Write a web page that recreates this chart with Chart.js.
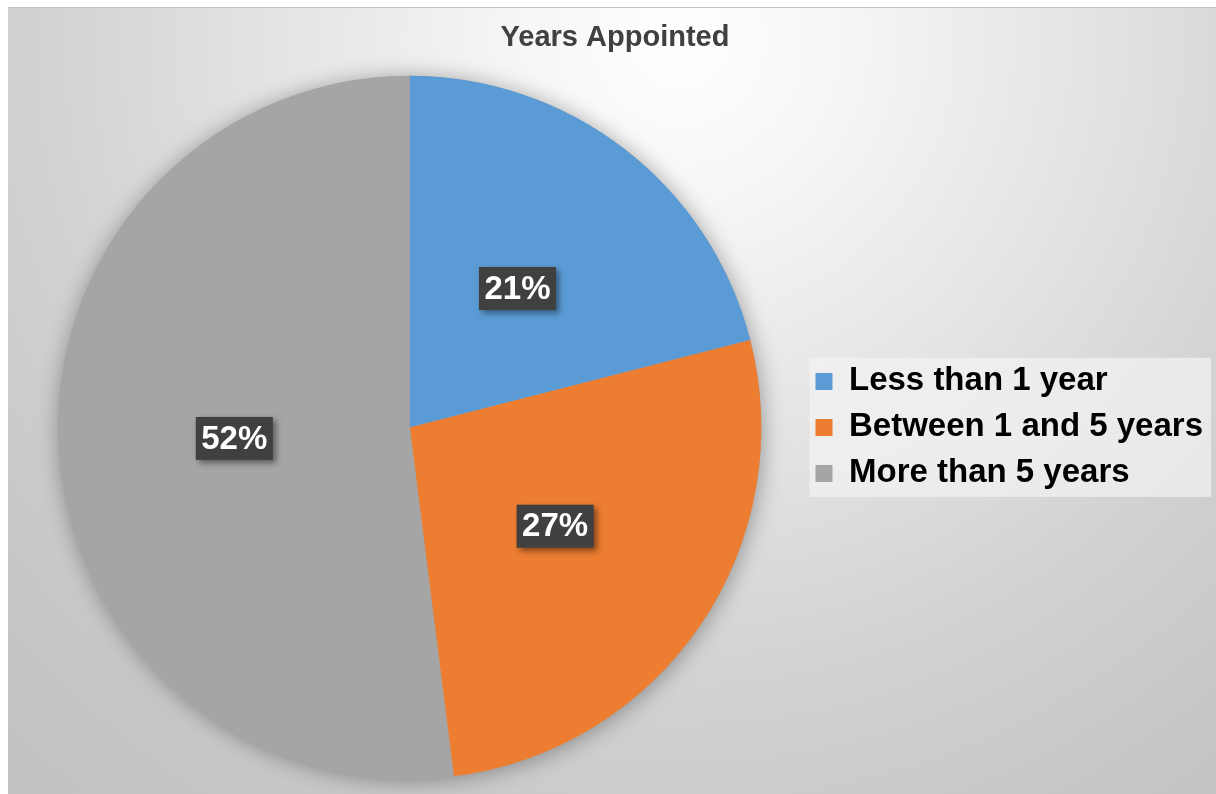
<!DOCTYPE html>
<html>
<head>
<meta charset="utf-8">
<title>Years Appointed</title>
<script src="https://cdn.jsdelivr.net/npm/chart.js@4.4.1/dist/chart.umd.min.js"></script>
<style>
	html, body {
		margin: 0;
		padding: 0;
		background: #ffffff;
	}
	#chart-box {
		position: absolute;
		left: 8px;
		top: 7px;
		width: 1208px;
		height: 787px;
		border-top: 1px solid #c4c4c4;
		box-sizing: border-box;
		background: radial-gradient(circle at 672px 33px, #ffffff 0px, #f6f6f6 160px, #e2e2e2 430px, #d2d2d2 640px, #c6c6c6 860px, #c0c0c0 1050px);
	}
</style>
</head>
<body>
<div id="chart-box">
	<canvas id="pie-chartcanvas"></canvas>
</div>
<script>
	var labels = ["Less than 1 year", "Between 1 and 5 years", "More than 5 years"];
	var percents = [21, 27, 52];
	var colors = ["#5b9bd5", "#ed7d31", "#a5a5a5"];

	var fontFamily = "'Liberation Sans', Arial, Helvetica, sans-serif";

	// soft shadow behind the whole pie
	var pieShadow = {
		id: "pieShadow",
		beforeDatasetsDraw: function(chart){
			var arc = chart.getDatasetMeta(0).data[0];
			if(!arc){
				return;
			}
			var ctx = chart.ctx;
			ctx.save();
			ctx.shadowColor = "rgba(0, 0, 0, 0.35)";
			ctx.shadowBlur = 22;
			ctx.shadowOffsetX = 1;
			ctx.shadowOffsetY = 2;
			ctx.fillStyle = "#a5a5a5";
			ctx.beginPath();
			ctx.arc(arc.x, arc.y, arc.outerRadius, 0, Math.PI * 2);
			ctx.fill();
			ctx.restore();
		}
	};

	// light panel behind the legend items
	var legendPanel = {
		id: "legendPanel",
		beforeDraw: function(chart){
			var legend = chart.legend;
			if(!legend || !legend.legendHitBoxes || !legend.legendHitBoxes.length){
				return;
			}
			var boxes = legend.legendHitBoxes;
			var first = boxes[0];
			var last = boxes[boxes.length - 1];
			var x1 = first.left - 6;
			var x2 = legend.right - 2;
			var y1 = first.top - 7;
			var y2 = last.top + last.height + 7;
			var ctx = chart.ctx;
			ctx.save();
			ctx.fillStyle = "rgba(242, 242, 242, 0.72)";
			ctx.fillRect(x1, y1, x2 - x1, y2 - y1);
			ctx.restore();
		}
	};

	// dark value tags in the middle of each slice
	var valueTags = {
		id: "valueTags",
		afterDatasetsDraw: function(chart){
			var ctx = chart.ctx;
			var meta = chart.getDatasetMeta(0);
			var values = chart.data.datasets[0].data;
			ctx.save();
			ctx.font = "bold 33px " + fontFamily;
			ctx.textAlign = "center";
			ctx.textBaseline = "middle";
			meta.data.forEach(function(arc, i){
				var pos = arc.tooltipPosition();
				var text = values[i] + "%";
				var w = ctx.measureText(text).width + 11;
				var h = 43;
				ctx.save();
				ctx.shadowColor = "rgba(0, 0, 0, 0.45)";
				ctx.shadowBlur = 6;
				ctx.shadowOffsetX = 3;
				ctx.shadowOffsetY = 3;
				ctx.fillStyle = "#404040";
				ctx.fillRect(pos.x - w / 2, pos.y - h / 2, w, h);
				ctx.restore();
				ctx.fillStyle = "#ffffff";
				ctx.fillText(text, pos.x, pos.y + 1);
			});
			ctx.restore();
		}
	};

	var ctx1 = document.getElementById("pie-chartcanvas");

	var data1 = {
		labels: labels,
		datasets: [
			{
				label: "Years Appointed",
				data: percents,
				backgroundColor: colors,
				borderWidth: 0
			}
		]
	};

	var options = {
		responsive: true,
		maintainAspectRatio: false,
		animation: false,
		layout: {
			padding: {left: 9, right: 3, top: 0, bottom: 15}
		},
		plugins: {
			title: {
				display: true,
				position: "top",
				text: "Years Appointed",
				color: "#404040",
				font: {family: fontFamily, size: 29, weight: "bold"},
				padding: {top: 13, bottom: 20}
			},
			legend: {
				display: true,
				position: "right",
				fullSize: false,
				labels: {
					color: "#000000",
					font: {family: fontFamily, size: 33, weight: "bold"},
					boxWidth: 17,
					boxHeight: 17,
					padding: 13
				}
			},
			tooltip: {enabled: false}
		}
	};

	var chart1 = new Chart(ctx1, {
		type: "pie",
		data: data1,
		options: options,
		plugins: [legendPanel, pieShadow, valueTags]
	});
</script>
</body>
</html>
